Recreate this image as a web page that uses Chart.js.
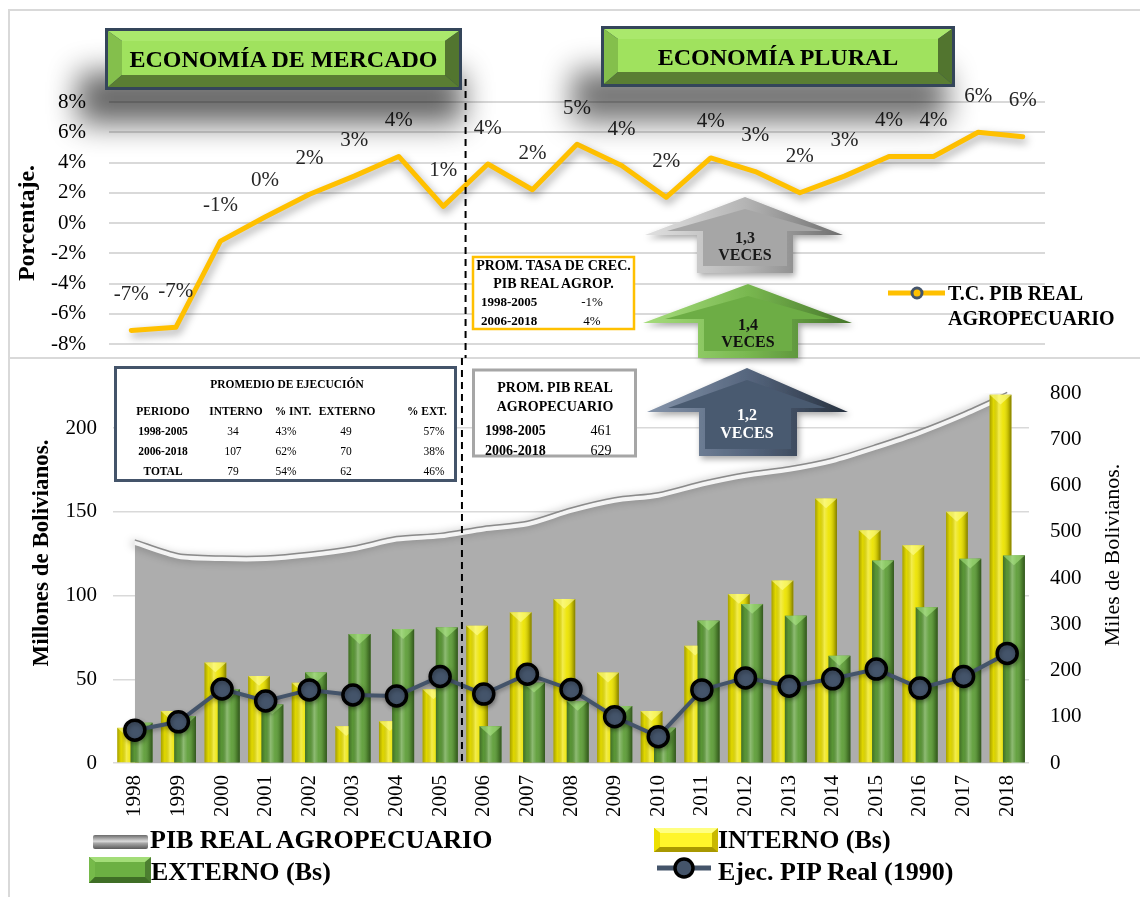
<!DOCTYPE html>
<html><head><meta charset="utf-8">
<script src="https://cdn.jsdelivr.net/npm/chart.js@4.4.1/dist/chart.umd.min.js"></script>
<style>
html,body{margin:0;padding:0;background:#fff;}
#wrap{position:relative;width:1140px;height:897px;overflow:hidden;background:#fff;}
canvas{position:absolute;left:0;}
#c1{top:0}
#c2{top:358px}
#ov{position:absolute;left:0;top:0;pointer-events:none}
</style></head>
<body><div id="wrap">
<div style="position:absolute;left:8px;top:9px;width:1140px;height:900px;border-left:2px solid #D9D9D9;border-top:2px solid #D9D9D9"></div>
<div style="position:absolute;left:8px;top:357px;width:1140px;height:2px;background:#D9D9D9"></div>
<canvas id="c1" width="1140" height="358"></canvas>
<canvas id="c2" width="1140" height="539"></canvas>
<svg id="ov" width="1140" height="897" viewBox="0 0 1140 897" font-family="Liberation Serif, Times New Roman, serif">
<defs>
 <filter id="blur1" x="-50%" y="-100%" width="200%" height="300%"><feGaussianBlur stdDeviation="15"/></filter>
 <filter id="ds" x="-20%" y="-20%" width="140%" height="150%"><feDropShadow dx="2" dy="3" stdDeviation="3" flood-color="#000" flood-opacity="0.35"/></filter>
 <linearGradient id="agGray" x1="0" x2="1" y1="0" y2="0"><stop offset="0" stop-color="#E0E0E0"/><stop offset="0.5" stop-color="#B5B5B5"/><stop offset="1" stop-color="#6E6E6E"/></linearGradient>
 <linearGradient id="agGreen" x1="0" x2="1" y1="0" y2="0"><stop offset="0" stop-color="#A6DC7C"/><stop offset="0.5" stop-color="#79B850"/><stop offset="1" stop-color="#45752A"/></linearGradient>
 <linearGradient id="agBlue" x1="0" x2="1" y1="0" y2="0"><stop offset="0" stop-color="#8594AA"/><stop offset="0.5" stop-color="#56667E"/><stop offset="1" stop-color="#27313F"/></linearGradient>
 <linearGradient id="lgGray" x1="0" x2="0" y1="0" y2="1"><stop offset="0" stop-color="#6A6A6A"/><stop offset="0.45" stop-color="#DADADA"/><stop offset="0.6" stop-color="#A5A5A5"/><stop offset="1" stop-color="#5A5A5A"/></linearGradient>
</defs>

<!-- header boxes -->
<rect x="78" y="72" width="385" height="52" fill="#000" opacity="0.6" filter="url(#blur1)"/>
<rect x="572" y="70" width="375" height="52" fill="#000" opacity="0.55" filter="url(#blur1)"/>
<g>
 <rect x="105" y="28" width="357" height="62" fill="#34455A"/>
 <polygon points="108,31 459,31 445,41 122,41" fill="#AAE86C"/>
 <polygon points="108,31 122,41 122,75 108,87" fill="#84BF4C"/>
 <polygon points="108,87 122,75 445,75 459,87" fill="#5A7E33"/>
 <polygon points="459,31 459,87 445,75 445,41" fill="#52752F"/>
 <rect x="122" y="41" width="323" height="34" fill="#A0E25E"/>
 <text x="283.5" y="67" text-anchor="middle" font-size="24" font-weight="bold" fill="#000">ECONOMÍA DE MERCADO</text>
</g>
<g>
 <rect x="601" y="26" width="354" height="61" fill="#34455A"/>
 <polygon points="604,29 952,29 938,39 618,39" fill="#AAE86C"/>
 <polygon points="604,29 618,39 618,72 604,84" fill="#84BF4C"/>
 <polygon points="604,84 618,72 938,72 952,84" fill="#5A7E33"/>
 <polygon points="952,29 952,84 938,72 938,39" fill="#52752F"/>
 <rect x="618" y="39" width="320" height="33" fill="#A0E25E"/>
 <text x="778" y="65" text-anchor="middle" font-size="24" font-weight="bold" fill="#000">ECONOMÍA PLURAL</text>
</g>

<!-- arrows -->
<g filter="url(#ds)">
 <polygon points="745,197 843,235 793,235 793,273 697,273 697,235 645,235" fill="url(#agGray)"/>
 <polygon points="745,209 823,231 787,231 787,266 703,266 703,231 667,231" fill="#A6A6A6"/>
</g>
<text x="745" y="243" text-anchor="middle" font-size="16" font-weight="bold" fill="#1A1A1A">1,3</text>
<text x="745" y="260" text-anchor="middle" font-size="16" font-weight="bold" fill="#1A1A1A">VECES</text>
<g filter="url(#ds)">
 <polygon points="748,284 852,323 798,323 798,358 698,358 698,323 643,323" fill="url(#agGreen)"/>
 <polygon points="748,296 830,319 792,319 792,351 704,351 704,319 665,319" fill="#6DAD45"/>
</g>
<text x="748" y="330" text-anchor="middle" font-size="16" font-weight="bold" fill="#111">1,4</text>
<text x="748" y="347" text-anchor="middle" font-size="16" font-weight="bold" fill="#111">VECES</text>
<g filter="url(#ds)">
 <polygon points="747,368 848,412 797,412 797,456 699,456 699,412 647,412" fill="url(#agBlue)"/>
 <polygon points="747,380 826,408 791,408 791,449 705,449 705,408 668,408" fill="#4A5A70"/>
</g>
<text x="747" y="420" text-anchor="middle" font-size="16" font-weight="bold" fill="#FFF">1,2</text>
<text x="747" y="438" text-anchor="middle" font-size="16" font-weight="bold" fill="#FFF">VECES</text>

<!-- table: prom tasa -->
<rect x="473" y="257" width="161" height="72" fill="#fff" stroke="#FFC000" stroke-width="2.5"/>
<text x="553.5" y="270" text-anchor="middle" font-size="14" font-weight="bold">PROM. TASA DE CREC.</text>
<text x="553.5" y="288" text-anchor="middle" font-size="14" font-weight="bold">PIB REAL AGROP.</text>
<text x="481" y="306" font-size="13" font-weight="bold">1998-2005</text>
<text x="592" y="306" text-anchor="middle" font-size="13">-1%</text>
<text x="481" y="325" font-size="13" font-weight="bold">2006-2018</text>
<text x="592" y="325" text-anchor="middle" font-size="13">4%</text>

<!-- table: prom pib -->
<rect x="473.5" y="370" width="162" height="86" fill="#fff" stroke="#A6A6A6" stroke-width="3"/>
<text x="555" y="392" text-anchor="middle" font-size="14" font-weight="bold">PROM. PIB REAL</text>
<text x="555" y="411" text-anchor="middle" font-size="14" font-weight="bold">AGROPECUARIO</text>
<text x="485" y="435" font-size="14" font-weight="bold">1998-2005</text>
<text x="601" y="435" text-anchor="middle" font-size="14">461</text>
<text x="485" y="455" font-size="14" font-weight="bold">2006-2018</text>
<text x="601" y="455" text-anchor="middle" font-size="14">629</text>

<!-- table: promedio de ejecucion -->
<rect x="115.5" y="367.5" width="340" height="113" fill="#fff" stroke="#44546A" stroke-width="3"/>
<g font-size="13.5" text-anchor="middle">
<text transform="translate(287,388) scale(0.85,1)" font-weight="bold">PROMEDIO DE EJECUCIÓN</text>
<text transform="translate(163,415) scale(0.85,1)" font-weight="bold">PERIODO</text>
<text transform="translate(236,415) scale(0.85,1)" font-weight="bold">INTERNO</text>
<text transform="translate(293,415) scale(0.85,1)" font-weight="bold">% INT.</text>
<text transform="translate(347,415) scale(0.85,1)" font-weight="bold">EXTERNO</text>
<text transform="translate(427,415) scale(0.85,1)" font-weight="bold">% EXT.</text>
<text transform="translate(163,435) scale(0.85,1)" font-weight="bold">1998-2005</text>
<text transform="translate(233,435) scale(0.85,1)">34</text>
<text transform="translate(286,435) scale(0.85,1)">43%</text>
<text transform="translate(346,435) scale(0.85,1)">49</text>
<text transform="translate(434,435) scale(0.85,1)">57%</text>
<text transform="translate(163,455) scale(0.85,1)" font-weight="bold">2006-2018</text>
<text transform="translate(233,455) scale(0.85,1)">107</text>
<text transform="translate(286,455) scale(0.85,1)">62%</text>
<text transform="translate(346,455) scale(0.85,1)">70</text>
<text transform="translate(434,455) scale(0.85,1)">38%</text>
<text transform="translate(163,475) scale(0.85,1)" font-weight="bold">TOTAL</text>
<text transform="translate(233,475) scale(0.85,1)">79</text>
<text transform="translate(286,475) scale(0.85,1)">54%</text>
<text transform="translate(346,475) scale(0.85,1)">62</text>
<text transform="translate(434,475) scale(0.85,1)">46%</text>
</g>

<!-- bottom axis titles -->
<text transform="translate(48,553) rotate(-90)" text-anchor="middle" font-size="23" font-weight="bold">Millones de Bolivianos.</text>
<text transform="translate(1119,555) rotate(-90)" text-anchor="middle" font-size="22">Miles de Bolivianos.</text>

<!-- top legend -->
<line x1="888" y1="293" x2="945" y2="293" stroke="#FFC000" stroke-width="5"/>
<circle cx="917" cy="293" r="5" fill="#FFC000" stroke="#44546A" stroke-width="3"/>
<text x="948" y="300" font-size="20" font-weight="bold">T.C. PIB REAL</text>
<text x="948" y="325" font-size="20" font-weight="bold">AGROPECUARIO</text>

<!-- bottom legend -->
<rect x="93" y="835" width="55" height="14" rx="2" fill="url(#lgGray)"/>
<text x="150" y="848" font-size="26" font-weight="bold">PIB REAL AGROPECUARIO</text>
<g>
 <rect x="654" y="828" width="64" height="24" fill="#C9B800"/>
 <polygon points="654,828 718,828 712,833 660,833" fill="#FFFF80"/>
 <polygon points="654,828 660,833 660,847 654,852" fill="#EDE000"/>
 <polygon points="654,852 660,847 712,847 718,852" fill="#A89800"/>
 <rect x="660" y="833" width="52" height="14" fill="#FFF52A"/>
</g>
<text x="718" y="848" font-size="26" font-weight="bold">INTERNO (Bs)</text>
<g>
 <rect x="89" y="857" width="62" height="26" fill="#4C7F30"/>
 <polygon points="89,857 151,857 145,862 95,862" fill="#A3DD78"/>
 <polygon points="89,857 95,862 95,877 89,883" fill="#76BA4A"/>
 <polygon points="89,883 95,877 145,877 151,883" fill="#3F6E26"/>
 <rect x="95" y="862" width="50" height="15" fill="#6CB043"/>
</g>
<text x="151" y="880" font-size="26" font-weight="bold">EXTERNO (Bs)</text>
<line x1="657" y1="868" x2="711" y2="868" stroke="#44546A" stroke-width="5"/>
<circle cx="684" cy="868" r="9" fill="#44546A" stroke="#000" stroke-width="3.5"/>
<text x="718" y="880" font-size="26" font-weight="bold">Ejec. PIP Real (1990)</text>
</svg>
</div>
<script>
// ---------- data ----------
const years = ['1998','1999','2000','2001','2002','2003','2004','2005','2006','2007','2008','2009','2010','2011','2012','2013','2014','2015','2016','2017','2018'];
// growth rate of real agricultural GDP (%)
const tcPibAgro = [-7.1, -6.9, -1.2, 0.4, 1.9, 3.1, 4.4, 1.1, 3.9, 2.2, 5.2, 3.8, 1.7, 4.3, 3.4, 2.0, 3.1, 4.4, 4.4, 6.0, 5.7];
// real agricultural GDP (miles de Bs, right axis)
const pibRealAgro = [476, 446, 441, 441, 449, 462, 483, 490, 505, 516, 545, 567, 578, 602, 621, 634, 653, 682, 714, 752, 795];
// investment execution (millones de Bs, left axis)
const interno = [21, 31, 60, 52, 48, 22, 25, 44, 82, 90, 98, 54, 31, 70, 101, 109, 158, 139, 130, 150, 220];
const externo = [24, 28, 44, 35, 54, 77, 80, 81, 22, 48, 37, 34, 21, 85, 95, 88, 64, 121, 93, 122, 124];
// Ejec. PIP Real (1990), right axis
const ejecPip = [71, 89, 160, 134, 158, 147, 145, 187, 149, 192, 159, 100, 57, 158, 184, 166, 182, 203, 162, 187, 237];
const pctTicks = {min: -8, max: 8, step: 2};
const leftTicks = {min: 0, max: 221, step: 50};
const rightTicks = {min: 0, max: 800, step: 100};
const splitAfter = '2005';

Chart.defaults.font.family = '"Liberation Serif","Times New Roman",serif';
Chart.defaults.color = '#000';

function drawSplit(chart, y0, y1) {
  const xs = chart.scales.x;
  const i = years.indexOf(splitAfter);
  const xm = (xs.getPixelForValue(i) + xs.getPixelForValue(i + 1)) / 2;
  const ctx = chart.ctx;
  ctx.save();
  ctx.setLineDash([7, 5]);
  ctx.lineWidth = 2;
  ctx.strokeStyle = '#000';
  ctx.beginPath(); ctx.moveTo(xm, y0); ctx.lineTo(xm, y1); ctx.stroke();
  ctx.restore();
}

// ---------- top chart ----------
const topPlugin = {
  id: 'topDeco',
  beforeDatasetDraw(chart) {
    const ctx = chart.ctx; ctx.save();
    ctx.shadowColor = 'rgba(0,0,0,0.38)'; ctx.shadowBlur = 9; ctx.shadowOffsetX = 2; ctx.shadowOffsetY = 4;
  },
  afterDatasetDraw(chart) { chart.ctx.restore(); },
  afterDatasetsDraw(chart) {
    const ctx = chart.ctx;
    const meta = chart.getDatasetMeta(0);
    ctx.save();
    ctx.font = '21px "Liberation Serif"';
    ctx.fillStyle = '#262626';
    ctx.textAlign = 'center'; ctx.textBaseline = 'middle';
    meta.data.forEach((pt, i) => { ctx.fillText(Math.round(tcPibAgro[i]) + '%', pt.x, pt.y - 36); });
    ctx.restore();
    drawSplit(chart, 79, chart.height);
  }
};

new Chart(document.getElementById('c1'), {
  type: 'line',
  data: { labels: years, datasets: [{
    label: 'T.C. PIB REAL AGROPECUARIO', data: tcPibAgro,
    borderColor: '#FFC000', borderWidth: 5, pointRadius: 0, tension: 0, fill: false,
    borderCapStyle: 'round', borderJoinStyle: 'round'
  }]},
  options: {
    responsive: false, animation: false,
    layout: { padding: { left: 0, right: 95, top: 102, bottom: 14 } },
    plugins: { legend: { display: false }, tooltip: { enabled: false } },
    scales: {
      x: { type: 'category', offset: true, display: false },
      y: {
        min: pctTicks.min, max: pctTicks.max,
        ticks: { stepSize: pctTicks.step, callback: v => v + '%', color: '#000', font: { size: 21 }, padding: 1 },
        grid: { color: '#D9D9D9', lineWidth: 2, drawTicks: true, tickLength: 22, tickColor: 'rgba(0,0,0,0)' },
        border: { display: false },
        title: { display: true, text: 'Porcentaje.', color: '#000', font: { size: 24, weight: 'bold' }, padding: { top: 13, bottom: 0 } },
        afterFit(s) { s.width = 109; }
      }
    }
  },
  plugins: [topPlugin]
});

// ---------- bottom chart ----------
function shadeBars(ctx, meta, light) {
  meta.data.forEach(el => {
    const p = el.getProps(['x', 'y', 'base', 'width'], true);
    const l = p.x - p.width / 2, r = p.x + p.width / 2, h = p.base - p.y;
    const g = ctx.createLinearGradient(l, 0, r, 0);
    g.addColorStop(0, 'rgba(0,0,0,0.30)');
    g.addColorStop(0.18, 'rgba(0,0,0,0.05)');
    g.addColorStop(0.42, 'rgba(255,255,255,0.30)');
    g.addColorStop(0.62, 'rgba(255,255,255,0.05)');
    g.addColorStop(0.85, 'rgba(0,0,0,0.18)');
    g.addColorStop(1, 'rgba(0,0,0,0.45)');
    ctx.fillStyle = g; ctx.fillRect(l, p.y, p.width, h);
    const th = Math.min(p.width * 0.45, h);
    ctx.beginPath(); ctx.moveTo(l, p.y); ctx.lineTo(r, p.y); ctx.lineTo(p.x, p.y + th); ctx.closePath();
    ctx.fillStyle = light; ctx.fill();
  });
}

const botPlugin = {
  id: 'botDeco',
  beforeDatasetDraw(chart, args) {
    const ds = chart.data.datasets[args.index];
    const ctx = chart.ctx; ctx.save();
    if (ds.label === 'PIB REAL AGROPECUARIO') {
      ctx.shadowColor = 'rgba(0,0,0,0.35)'; ctx.shadowBlur = 8; ctx.shadowOffsetX = -3; ctx.shadowOffsetY = 0;
    } else if (ds.label === 'Ejec. PIP Real (1990)') {
      ctx.shadowColor = 'rgba(0,0,0,0.3)'; ctx.shadowBlur = 4; ctx.shadowOffsetX = 1; ctx.shadowOffsetY = 2;
    }
  },
  afterDatasetDraw(chart, args) {
    const ctx = chart.ctx; ctx.restore();
    const ds = chart.data.datasets[args.index];
    const meta = chart.getDatasetMeta(args.index);
    if (ds.label === 'PIB REAL AGROPECUARIO') {
      ctx.save(); ctx.translate(0, -3); ctx.beginPath(); meta.dataset.path(ctx);
      ctx.lineWidth = 1.5; ctx.strokeStyle = '#8A8A8A'; ctx.stroke(); ctx.restore();
    } else if (ds.label === 'EXTERNO (Bs)') {
      shadeBars(ctx, meta, 'rgba(175,235,135,0.55)');
    } else if (ds.label === 'INTERNO (Bs)') {
      shadeBars(ctx, meta, 'rgba(255,255,150,0.6)');
      // externo bars sit in front of interno bars
      const gi = chart.data.datasets.findIndex(d => d.label === 'EXTERNO (Bs)');
      const gm = chart.getDatasetMeta(gi);
      gm.controller.draw();
      shadeBars(ctx, gm, 'rgba(175,235,135,0.55)');
    }
  },
  afterDatasetsDraw(chart) { drawSplit(chart, 0, chart.chartArea.bottom); }
};

new Chart(document.getElementById('c2'), {
  type: 'bar',
  data: { labels: years, datasets: [
    { type: 'line', label: 'Ejec. PIP Real (1990)', data: ejecPip, yAxisID: 'y1', order: 0,
      borderColor: '#44546A', borderWidth: 4, pointRadius: 10, pointBorderWidth: 3.5,
      pointBorderColor: '#000', pointBackgroundColor: '#44546A', tension: 0, fill: false },
    { label: 'INTERNO (Bs)', data: interno, yAxisID: 'y', order: 1, stack: 'a',
      backgroundColor: '#EDE400', categoryPercentage: 0.61, barPercentage: 1.64 },
    { label: 'EXTERNO (Bs)', data: externo, yAxisID: 'y', order: 2, stack: 'b',
      backgroundColor: '#5E9E38', categoryPercentage: 0.61, barPercentage: 1.64 },
    { type: 'line', label: 'PIB REAL AGROPECUARIO', data: pibRealAgro, yAxisID: 'y1', order: 3,
      fill: 'origin', backgroundColor: '#ADADAD', borderColor: '#F4F4F4', borderWidth: 4,
      pointRadius: 0, tension: 0.25 }
  ]},
  options: {
    responsive: false, animation: false,
    layout: { padding: { left: 0, right: 0, top: 35, bottom: 74 } },
    plugins: { legend: { display: false }, tooltip: { enabled: false } },
    scales: {
      x: {
        offset: true, grid: { display: false, drawTicks: false }, border: { display: false },
        ticks: { color: '#000', font: { size: 21 }, minRotation: 90, maxRotation: 90, padding: 12, autoSkip: false },
        afterFit(s) { s.height = 60; }
      },
      y: {
        position: 'left', min: leftTicks.min, max: leftTicks.max,
        ticks: { stepSize: leftTicks.step, color: '#000', font: { size: 21 }, padding: 2 },
        afterBuildTicks(s) { s.ticks = s.ticks.filter(t => t.value % leftTicks.step === 0); },
        grid: { color: '#D9D9D9', lineWidth: 1.5, drawTicks: true, tickLength: 14, tickColor: 'rgba(0,0,0,0)' },
        border: { display: false },
        title: { display: false },
        afterFit(s) { s.width = 113; }
      },
      y1: {
        position: 'right', min: rightTicks.min, max: rightTicks.max,
        ticks: { stepSize: rightTicks.step, color: '#000', font: { size: 21 }, padding: 2 },
        grid: { display: false, drawTicks: true, tickLength: 19, tickColor: 'rgba(0,0,0,0)' },
        border: { display: false },
        title: { display: false },
        afterFit(s) { s.width = 111; }
      }
    }
  },
  plugins: [botPlugin]
});
</script>
</body></html>
